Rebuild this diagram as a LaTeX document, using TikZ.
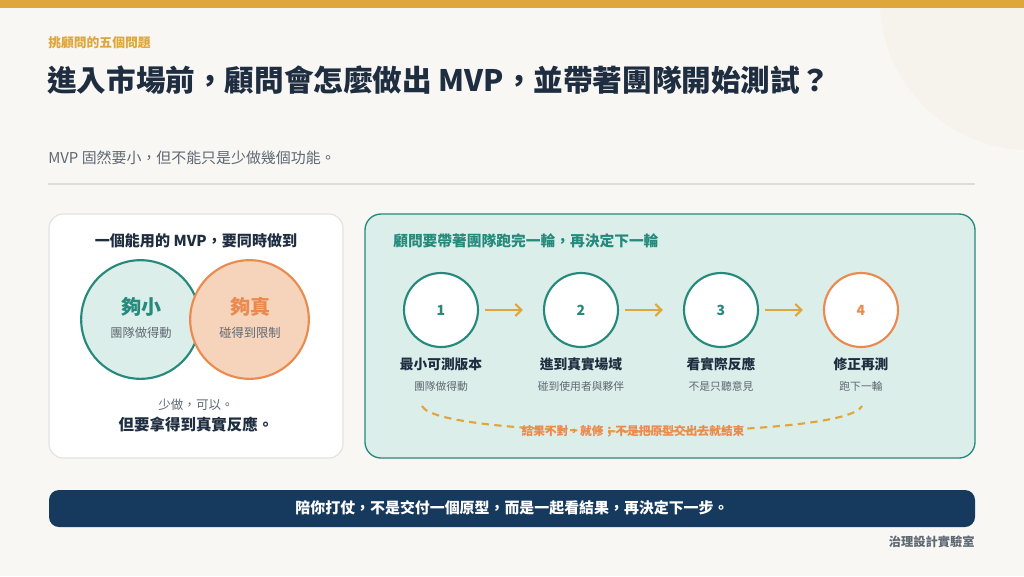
\documentclass[tikz,border=0pt]{standalone}
\usepackage{fontspec}
\setmainfont{Noto Sans CJK TC}
\usetikzlibrary{arrows.meta}
\definecolor{bg}{HTML}{F8F7F3}
\definecolor{gold}{HTML}{DEA63B}
\definecolor{navy}{HTML}{1E2D40}
\definecolor{teal}{HTML}{25897C}
\definecolor{tealbg}{HTML}{DCEEE9}
\definecolor{orange}{HTML}{EA8A4F}
\definecolor{orangebg}{HTML}{F6D3BB}
\definecolor{txtgray}{HTML}{5E6873}
\definecolor{banner}{HTML}{16395E}
\definecolor{rule}{HTML}{DCDCD8}
\definecolor{cardline}{HTML}{E2E2DE}
\definecolor{deco}{HTML}{F6F3EC}
\tikzset{
  stepcirc/.style={circle, draw=teal, line width=1.6pt, fill=white, minimum size=55.5pt, inner sep=0pt, font=\fontsize{10.5pt}{12pt}\selectfont\bfseries, text=teal},
  steptitle/.style={font=\fontsize{10.3pt}{12pt}\selectfont\bfseries, text=navy},
  stepsub/.style={font=\fontsize{8.1pt}{10pt}\selectfont, text=txtgray},
  steparrow/.style={draw=gold, line width=1.6pt, -{Straight Barb[length=4.5pt,width=9pt]}, shorten <=4.5pt, shorten >=15pt},
}
\begin{document}
\begin{tikzpicture}[x=0.75pt,y=-0.75pt]
\useasboundingbox (0,0) rectangle (1024,576);
\fill[bg] (0,0) rectangle (1024,576);
% decorative circle
\begin{scope}
\clip (0,0) rectangle (1024,576);
\fill[deco] (1030,0) circle (150);
\end{scope}
\fill[gold] (0,0) rectangle (1024,8);

% header
\node[anchor=west, text=gold, font=\fontsize{9.6pt}{11pt}\selectfont\bfseries, inner sep=0pt] (kicker) at (48,43) {挑顧問的五個問題};
\node[anchor=west, text=navy, font=\fontsize{22.2pt}{26pt}\selectfont\bfseries, inner sep=0pt] (title) at (47,80) {進入市場前，顧問會怎麼做出 MVP，並帶著團隊開始測試？};
\node[anchor=west, text=txtgray, font=\fontsize{11.2pt}{13pt}\selectfont, inner sep=0pt] (sub) at (48,158) {MVP 固然要小，但不能只是少做幾個功能。};
\draw[rule, line width=0.9pt] (48,184) -- (975,184);

% left card
\draw[cardline, fill=white, line width=0.9pt, rounded corners=10.5pt] (49,214) rectangle (343,458);
\node[text=navy, font=\fontsize{11.3pt}{13pt}\selectfont\bfseries, inner sep=0pt] (lt) at (196,241) {一個能用的 MVP，要同時做到};
\node[circle, draw=teal, fill=tealbg, line width=1.6pt, minimum size=89pt, inner sep=0pt] (small) at (140.5,319.5) {};
\node[circle, draw=orange, fill=orangebg, line width=1.6pt, minimum size=89pt, inner sep=0pt] (real) at (249.5,319.5) {};
\node[text=teal, font=\fontsize{15pt}{17pt}\selectfont\bfseries, inner sep=0pt] (smallt) at (141,307) {夠小};
\node[text=txtgray, font=\fontsize{9.2pt}{11pt}\selectfont, inner sep=0pt] (smalls) at (141,333) {團隊做得動};
\node[text=orange, font=\fontsize{15pt}{17pt}\selectfont\bfseries, inner sep=0pt] (realt) at (250,307) {夠真};
\node[text=txtgray, font=\fontsize{9.2pt}{11pt}\selectfont, inner sep=0pt] (reals) at (250,333) {碰得到限制};
\node[text=txtgray, font=\fontsize{9.4pt}{11pt}\selectfont, inner sep=0pt] (less) at (196,405) {少做，可以。};
\node[text=navy, font=\fontsize{11.6pt}{13pt}\selectfont\bfseries, inner sep=0pt] (react) at (196,425) {但要拿得到真實反應。};

% right card
\draw[teal, fill=tealbg, line width=1pt, rounded corners=12pt] (365,214) rectangle (975,458);
\node[anchor=west, text=teal, font=\fontsize{11.05pt}{13pt}\selectfont\bfseries, inner sep=0pt] (rt) at (393,241) {顧問要帶著團隊跑完一輪，再決定下一輪};

\node[stepcirc] (c1) at (441,310) {1};
\node[stepcirc] (c2) at (581,310) {2};
\node[stepcirc] (c3) at (721,310) {3};
\node[stepcirc, draw=orange, text=orange] (c4) at (861,310) {4};
\draw[steparrow] (c1) -- (c2);
\draw[steparrow] (c2) -- (c3);
\draw[steparrow] (c3) -- (c4);

\node[steptitle] (t1) at (441,364) {最小可測版本};
\node[steptitle] (t2) at (581,364) {進到真實場域};
\node[steptitle] (t3) at (721,364) {看實際反應};
\node[steptitle] (t4) at (861,364) {修正再測};
\node[stepsub] (s1) at (441,386) {團隊做得動};
\node[stepsub] (s2) at (581,386) {碰到使用者與夥伴};
\node[stepsub] (s3) at (721,386) {不是只聽意見};
\node[stepsub] (s4) at (861,386) {跑下一輪};

\coordinate (ls) at (422,406);
\coordinate (le) at (862,406);
\draw[gold, line width=1.6pt, dash pattern=on 5.5pt off 4pt] (ls) .. controls (438,440) and (846,440) .. (le);
\node[text=orange, font=\fontsize{8.8pt}{10pt}\selectfont\bfseries, inner sep=0pt] (loop) at (633,431) {結果不對，就修；不是把原型交出去就結束};

% banner
\fill[banner, rounded corners=7.5pt] (49,490) rectangle (975,527);
\node[text=white, font=\fontsize{11.2pt}{13pt}\selectfont\bfseries, inner sep=0pt] (msg) at (512,508) {陪你打仗，不是交付一個原型，而是一起看結果，再決定下一步。};
\node[anchor=east, text=txtgray, font=\fontsize{9.2pt}{11pt}\selectfont\bfseries, inner sep=0pt] (brand) at (975,542) {治理設計實驗室};
\end{tikzpicture}
\end{document}
